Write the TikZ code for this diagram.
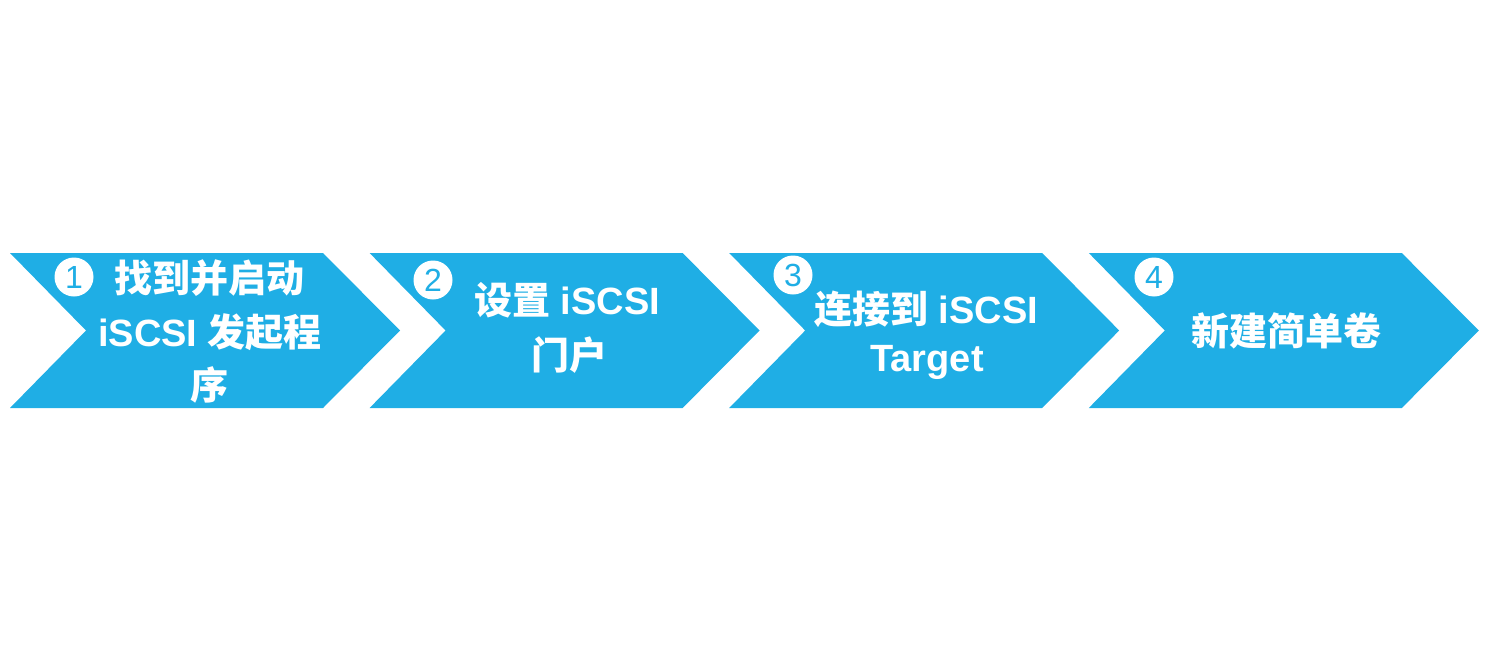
\documentclass[tikz,border=0pt]{standalone}
\usepackage{fontspec}
\setmainfont{Liberation Sans}
\newfontfamily\cjk{Noto Sans CJK SC}
\definecolor{chevblue}{HTML}{1FAEE5}
\begin{document}
\begin{tikzpicture}[x=1pt,y=-1pt,
  lbl/.style={anchor=base,text=white,font=\fontsize{38}{38}\selectfont\bfseries,inner sep=0pt},
  num/.style={circle,fill=white,minimum size=39pt,inner sep=0pt,text=chevblue,font=\fontsize{32}{32}\selectfont}]
\useasboundingbox (0,0) rectangle (1485,661);
\foreach \i in {0,1,2,3} {
  \pgfmathsetmacro\L{10+359.6*\i}
  \fill[chevblue] (\L,253) -- ++(313,0) -- ++(77,77.5) -- ++(-77,77.5) -- ++(-313,0) -- ++(76,-77.5) -- cycle;
}
% circled numbers
\node[num] (n1) at (74,277) {1};
\node[num] (n2) at (433,280) {2};
\node[num] (n3) at (793,275) {3};
\node[num] (n4) at (1154,277) {4};
% labels
\node[lbl] (a1) at (209,292) {\cjk\bfseries 找到并启动};
\node[lbl] (a2) at (210,346) {iSCSI {\cjk\bfseries 发起程}};
\node[lbl] (a3) at (209,399) {\cjk\bfseries 序};
\node[lbl] (b1) at (567,314) {{\cjk\bfseries 设置} iSCSI};
\node[lbl] (b2) at (569,369) {\cjk\bfseries 门户};
\node[lbl] (c1) at (926,323) {{\cjk\bfseries 连接到} iSCSI};
\node[lbl] (c2) at (927,371) {Target};
\node[lbl] (d1) at (1286,345) {\cjk\bfseries 新建简单卷};
\end{tikzpicture}
\end{document}
